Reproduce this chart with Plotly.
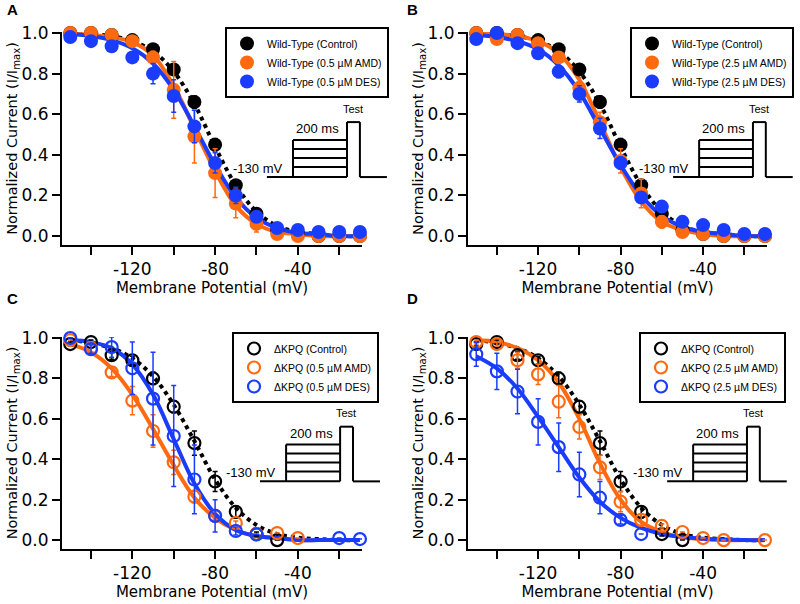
import plotly.graph_objects as go

# membrane potentials of the prepulse (mV)
volts = [-150, -140, -130, -120, -110, -100, -90, -80, -70, -60, -50, -40, -30, -20, -10]

# ---- panel A : wild-type, 0.5 uM ----
wt_ctrl = [1.00, 1.00, 0.99, 0.965, 0.92, 0.82, 0.66, 0.45, 0.25, 0.11, 0.03, 0.01, 0.0, 0.0, 0.0]
wt_ctrl_err = [0, 0, 0, 0, 0.01, 0.02, 0.03, 0.03, 0.02, 0.01, 0, 0, 0, 0, 0]
wt_amd05 = [1.0, 1.0, 0.99, 0.96, 0.88, 0.72, 0.49, 0.31, 0.16, 0.06, 0.01, 0.0, 0.0, 0.0, 0.0]
wt_amd05_err = [0, 0, 0, 0, 0.03, 0.14, 0.13, 0.12, 0.07, 0.04, 0, 0, 0, 0, 0]
wt_des05 = [0.98, 0.96, 0.935, 0.88, 0.80, 0.69, 0.54, 0.36, 0.20, 0.095, 0.04, 0.03, 0.02, 0.02, 0.02]
wt_des05_err = [0, 0, 0, 0.02, 0.05, 0.08, 0.08, 0.05, 0.04, 0.02, 0, 0, 0, 0, 0]

# ---- panel B : wild-type, 2.5 uM ----
wt_amd25 = [1.0, 0.97, 0.99, 0.95, 0.88, 0.73, 0.56, 0.37, 0.21, 0.07, 0.02, 0.01, 0.0, 0.0, 0.0]
wt_amd25_err = [0, 0, 0, 0, 0.02, 0.05, 0.05, 0.06, 0.07, 0.03, 0, 0, 0, 0, 0]
wt_des25 = [0.97, 1.0, 0.95, 0.90, 0.81, 0.70, 0.53, 0.36, 0.19, 0.145, 0.07, 0.054, 0.03, 0.01, 0.01]
wt_des25_err = [0, 0, 0, 0, 0.03, 0.04, 0.05, 0.03, 0.02, 0, 0, 0, 0, 0, 0]

# ---- panel C : dKPQ, 0.5 uM ----
kpq_ctrl = [0.97, 0.98, 0.915, 0.89, 0.80, 0.66, 0.48, 0.29, 0.14, 0.03, 0.0, None, None, None, None]
kpq_ctrl_err = [0.01, 0.01, 0.02, 0.02, 0.03, 0.03, 0.06, 0.05, 0.03, 0.01, 0, 0, 0, 0, 0]
kpq_amd05 = [0.99, 0.95, 0.83, 0.69, 0.54, 0.385, 0.215, 0.12, 0.085, 0.03, 0.035, 0.01, None, None, None]
kpq_amd05_err = [0, 0.03, 0.02, 0.07, 0.08, 0.06, 0.03, 0.02, 0.01, 0, 0, 0, 0, 0, 0]
kpq_des05 = [1.0, 0.945, 0.955, 0.85, 0.70, 0.515, 0.30, 0.12, 0.045, 0.028, None, None, None, 0.01, 0.005]
kpq_des05_err = [0, 0.02, 0.05, 0.13, 0.23, 0.25, 0.17, 0.08, 0.02, 0, 0, 0, 0, 0, 0]

# ---- panel D : dKPQ, 2.5 uM ----
kpq_amd25 = [0.98, 0.97, 0.89, 0.82, 0.685, 0.56, 0.36, 0.19, 0.10, 0.07, 0.04, 0.01, 0.0, None, 0.0]
kpq_amd25_err = [0.01, 0.01, 0.04, 0.05, 0.08, 0.06, 0.06, 0.05, 0.03, 0.01, 0, 0, 0, 0, 0]
kpq_des25 = [0.92, 0.835, 0.735, 0.585, 0.46, 0.325, 0.21, 0.10, 0.03, None, None, None, None, None, None]
kpq_des25_err = [0.06, 0.09, 0.11, 0.115, 0.12, 0.11, 0.08, 0.02, 0.0, 0, 0, 0, 0, 0, 0]

# Boltzmann fit curves at the same potentials
fit_wt_ctrl = [1.0, 0.995, 0.985, 0.96, 0.91, 0.81, 0.65, 0.44, 0.25, 0.12, 0.05, 0.02, 0.01, 0.0, 0.0]
fit_wt_amd05 = [1.0, 0.99, 0.98, 0.955, 0.89, 0.74, 0.53, 0.32, 0.15, 0.06, 0.02, 0.01, 0.0, 0.0, 0.0]
fit_wt_des05 = [0.995, 0.985, 0.965, 0.925, 0.85, 0.72, 0.54, 0.35, 0.19, 0.09, 0.04, 0.015, 0.01, 0.0, 0.0]
fit_wt_amd25 = [1.0, 0.995, 0.985, 0.96, 0.90, 0.77, 0.56, 0.34, 0.17, 0.07, 0.03, 0.01, 0.0, 0.0, 0.0]
fit_wt_des25 = [0.99, 0.98, 0.96, 0.92, 0.84, 0.71, 0.53, 0.35, 0.20, 0.10, 0.045, 0.02, 0.01, 0.0, 0.0]
fit_kpq_ctrl = [0.99, 0.975, 0.95, 0.90, 0.81, 0.67, 0.49, 0.30, 0.16, 0.075, 0.03, 0.012, 0.005, 0.0, 0.0]
fit_kpq_amd05 = [0.97, 0.93, 0.85, 0.72, 0.55, 0.37, 0.21, 0.11, 0.05, 0.02, 0.01, 0.0, 0.0, 0.0, 0.0]
fit_kpq_des05 = [0.99, 0.98, 0.95, 0.87, 0.72, 0.50, 0.28, 0.13, 0.05, 0.02, 0.01, 0.0, 0.0, 0.0, 0.0]
fit_kpq_amd25 = [0.99, 0.98, 0.95, 0.89, 0.78, 0.60, 0.38, 0.20, 0.09, 0.04, 0.015, 0.005, 0.0, 0.0, 0.0]
fit_kpq_des25 = [0.91, 0.85, 0.75, 0.61, 0.46, 0.31, 0.19, 0.11, 0.06, 0.03, 0.015, 0.007, 0.003, 0.0, 0.0]

BLACK = "#000000"
ORANGE = "#FF6A10"
BLUE = "#1A3CFF"
W, H = 800, 604

panels = [
    dict(letter="A", ax="", x0=62, x1=362, y0=32, y1=245, leg=(389, 27), symbol="circle",
         names=["Wild-Type (Control)", "Wild-Type (0.5 µM AMD)", "Wild-Type (0.5 µM DES)"],
         data=[(wt_ctrl, wt_ctrl_err), (wt_amd05, wt_amd05_err), (wt_des05, wt_des05_err)],
         fits=[fit_wt_ctrl, fit_wt_amd05, fit_wt_des05], inset=0.683),
    dict(letter="B", ax="2", x0=468, x1=767, y0=32, y1=245, leg=(794, 27), symbol="circle",
         names=["Wild-Type (Control)", "Wild-Type (2.5 µM AMD)", "Wild-Type (2.5 µM DES)"],
         data=[(wt_ctrl, wt_ctrl_err), (wt_amd25, wt_amd25_err), (wt_des25, wt_des25_err)],
         fits=[fit_wt_ctrl, fit_wt_amd25, fit_wt_des25], inset=0.686),
    dict(letter="C", ax="3", x0=62, x1=362, y0=337, y1=549, leg=(379, 332), symbol="circle-open",
         names=["ΔKPQ (Control)", "ΔKPQ (0.5 µM AMD)", "ΔKPQ (0.5 µM DES)"],
         data=[(kpq_ctrl, kpq_ctrl_err), (kpq_amd05, kpq_amd05_err), (kpq_des05, kpq_des05_err)],
         fits=[fit_kpq_ctrl, fit_kpq_amd05, fit_kpq_des05], inset=0.66),
    dict(letter="D", ax="4", x0=468, x1=767, y0=337, y1=549, leg=(786, 332), symbol="circle-open",
         names=["ΔKPQ (Control)", "ΔKPQ (2.5 µM AMD)", "ΔKPQ (2.5 µM DES)"],
         data=[(kpq_ctrl, kpq_ctrl_err), (kpq_amd25, kpq_amd25_err), (kpq_des25, kpq_des25_err)],
         fits=[fit_kpq_ctrl, fit_kpq_amd25, fit_kpq_des25], inset=0.666),
]
colors = [BLACK, ORANGE, BLUE]

fig = go.Figure()
shapes = []
annotations = []
layout = {}

for i, p in enumerate(panels):
    xa, ya = "x" + p["ax"], "y" + p["ax"]
    legname = "legend" + ("" if i == 0 else str(i + 1))

    # fit curves
    for k, (fit, c) in enumerate(zip(p["fits"], colors)):
        fig.add_trace(go.Scatter(
            x=volts, y=fit, mode="lines", xaxis=xa, yaxis=ya, showlegend=False,
            line=dict(color=c, width=4, shape="spline", dash="dot" if k == 0 else "solid"),
            cliponaxis=False, hoverinfo="skip"))

    # data points
    for (vals, err), c, name in zip(p["data"], colors, p["names"]):
        if p["symbol"] == "circle":
            mk = dict(symbol="circle", size=14, color=c, line=dict(width=0))
        else:
            mk = dict(symbol="circle-open", size=12, color=c, line=dict(width=2.2))
        fig.add_trace(go.Scatter(
            x=volts, y=vals, mode="markers", name=name, xaxis=xa, yaxis=ya,
            marker=mk, cliponaxis=False, legend=legname,
            error_y=dict(type="data", array=err, color=c, thickness=1.5, width=2.5)))

    xdom = [p["x0"] / W, p["x1"] / W]
    ydom = [1 - p["y1"] / H, 1 - p["y0"] / H]
    layout["xaxis" + p["ax"]] = dict(
        domain=xdom, anchor=ya, range=[-154, -9], showline=True, linecolor="black", linewidth=2,
        ticks="outside", ticklen=8, tickwidth=2, tickcolor="black",
        tickvals=[-120, -80, -40], ticktext=["-120", "-80", "-40"],
        minor=dict(tickvals=[-140, -100, -60, -20], ticks="outside", ticklen=8, tickwidth=2,
                   tickcolor="black", showgrid=False),
        showgrid=False, zeroline=False, automargin=False,
        tickfont=dict(family="DejaVu Sans", size=17, color="black"),
        title=dict(text="Membrane Potential (mV)", standoff=2,
                   font=dict(family="DejaVu Sans", size=15, color="black")))
    layout["yaxis" + p["ax"]] = dict(
        domain=ydom, anchor=xa, range=[-0.044, 1.005], showline=True, linecolor="black", linewidth=2,
        ticks="outside", ticklen=8, tickwidth=2, tickcolor="black",
        tickvals=[0, 0.2, 0.4, 0.6, 0.8, 1.0], tickformat=".1f",
        showgrid=False, zeroline=False, automargin=False,
        tickfont=dict(family="DejaVu Sans", size=17, color="black"),
        title=dict(text="Normalized Current (I/I<sub>max</sub>)", standoff=0,
                   font=dict(family="DejaVu Sans", size=14.5, color="black")))

    layout[legname] = dict(
        x=p["leg"][0] / W, y=1 - p["leg"][1] / H, xanchor="right", yanchor="top",
        bgcolor="white", bordercolor="black", borderwidth=2, itemwidth=30,
        tracegroupgap=0, font=dict(family="Liberation Sans", size=10.5, color="black"))

    # panel letter
    annotations.append(dict(text="<b>%s</b>" % p["letter"], xref="paper", yref="paper",
                            x=(12 if i % 2 == 0 else 412) / W,
                            y=1 - (10 if i < 2 else 298) / H,
                            xanchor="center", yanchor="middle", showarrow=False,
                            font=dict(family="Liberation Sans", size=15, color="black")))

    # voltage protocol inset
    xr, yr = xa + " domain", ya + " domain"
    s0 = p["inset"]
    step, boxr, testr, end = s0 + 0.087, s0 + 0.267, s0 + 0.31, s0 + 0.4
    base, top, ttop = 0.319, 0.493, 0.577
    segs = [(s0, base, boxr, base), (step, base, step, top), (boxr, base, boxr, ttop),
            (boxr, ttop, testr, ttop), (testr, ttop, testr, base), (testr, base, end, base)]
    for lvl in [top, 0.451, 0.408, 0.366]:
        segs.append((step, lvl, boxr, lvl))
    for a, b, c2, d in segs:
        shapes.append(dict(type="line", xref=xr, yref=yr, x0=a, y0=b, x1=c2, y1=d,
                           line=dict(color="black", width=2)))
    annotations.append(dict(text="-130 mV", xref=xr, yref=yr, x=s0 + 0.056, y=0.36,
                            xanchor="right", yanchor="middle", showarrow=False,
                            font=dict(family="Liberation Sans", size=13, color="black")))
    annotations.append(dict(text="200 ms", xref=xr, yref=yr, x=s0 + 0.17, y=0.545,
                            xanchor="center", yanchor="middle", showarrow=False,
                            font=dict(family="Liberation Sans", size=13, color="black")))
    annotations.append(dict(text="Test", xref=xr, yref=yr, x=s0 + 0.288, y=0.64,
                            xanchor="center", yanchor="middle", showarrow=False,
                            font=dict(family="Liberation Sans", size=11, color="black")))

fig.update_layout(
    width=W, height=H, margin=dict(l=0, r=0, t=0, b=0),
    paper_bgcolor="white", plot_bgcolor="white",
    shapes=shapes, annotations=annotations, **layout)

# the page body has a default 8px margin; drop it so the figure sits at the window corner
fig.write_html("out.html", config={"displayModeBar": False},
               post_script="document.body.style.margin='0px';")
